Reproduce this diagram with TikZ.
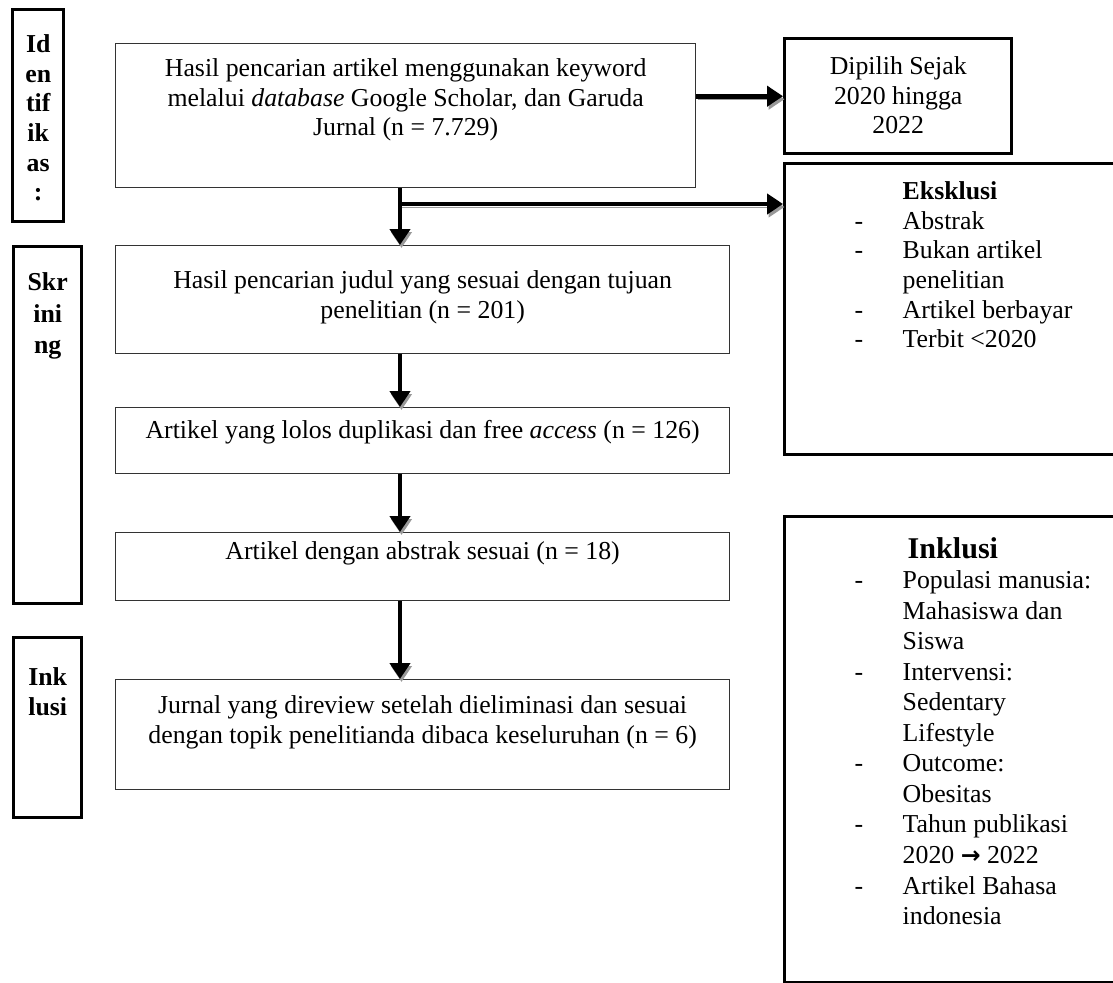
\documentclass[tikz,border=0pt]{standalone}
\usepackage{fontspec}
\setmainfont{Liberation Serif}
\newfontfamily\symfont{DejaVu Sans}
\usetikzlibrary{arrows.meta}
\newdimen\pxu \pxu=0.465pt
\newcommand\bxt[4]{\parbox[c][#2\pxu][t]{#1\pxu}{\vspace*{#3\pxu}#4}}
\begin{document}
\begin{tikzpicture}[x=0.465pt,y=-0.465pt,
  every node/.style={font=\fontsize{12}{13.8}\selectfont, inner sep=0pt, anchor=north west},
  thinbox/.style={draw=black!80, line width=0.6pt},
  heavy/.style={draw=black, line width=1.6pt},
  arr/.style={line width=2.3pt, -{Triangle[length=7.4pt,width=9.3pt]},
    preaction={draw=black!40, transform canvas={shift={(1.5,3)}}}}]
\clip (0,0) rectangle (1113,983);
\fill[white] (0,0) rectangle (1113,983);

% stage labels
\node[heavy] (lid) at (11,8) {\bxt{51}{212}{22}{\centering\bfseries\strut Id\\en\\tif\\ik\\as\\:}};
\node[heavy] (lsk) at (12,245) {\bxt{68}{357}{22}{\centering\bfseries\fontsize{12}{14.6}\selectfont\strut Skr\\ini\\ng}};
\node[heavy] (lin) at (12,636) {\bxt{68}{180}{27}{\centering\bfseries\strut Ink\\lusi}};

% main flow
\node[thinbox] (b1) at (115,43) {\bxt{580}{144}{12}{\centering\strut Hasil pencarian artikel menggunakan keyword\\ melalui \textit{database} Google Scholar, dan Garuda\\ Jurnal (n = 7.729)}};
\node[thinbox] (b2) at (115,245) {\bxt{614}{108}{22}{\centering\strut Hasil pencarian judul yang sesuai dengan tujuan\\ penelitian (n = 201)}};
\node[thinbox] (b3) at (115,407) {\bxt{614}{66}{10}{\centering\strut Artikel yang lolos duplikasi dan free \textit{access} (n = 126)}};
\node[thinbox] (b4) at (115,532) {\bxt{614}{68}{6}{\centering\strut Artikel dengan abstrak sesuai (n = 18)}};
\node[thinbox] (b5) at (115,679) {\bxt{614}{110}{13}{\centering\strut Jurnal yang direview setelah dieliminasi dan sesuai\\ dengan topik penelitianda dibaca keseluruhan (n = 6)}};

% right boxes
\node[heavy] (dp) at (783,37) {\bxt{227}{115}{15}{\centering\strut Dipilih Sejak\\ 2020 hingga\\ 2022}};
\node[heavy] (ex) at (783,162) {\bxt{345}{291}{15}{\hspace*{70\pxu}\begin{tabular}[t]{@{}p{48\pxu}@{}l@{}}
 & \textbf{Eksklusi}\\
-& Abstrak\\
-& Bukan artikel\\
 & penelitian\\
-& Artikel berbayar\\
-& Terbit <2020
\end{tabular}}};
\node[heavy] (in) at (783,515) {\bxt{345}{466}{20}{\fontsize{12}{14.2}\selectfont\hspace*{70\pxu}\begin{tabular}[t]{@{}p{48\pxu}@{}l@{}}
 & \hspace*{5\pxu}{\fontsize{14}{16}\selectfont\bfseries Inklusi}\\
-& Populasi manusia:\\
 & Mahasiswa dan\\
 & Siswa\\
-& Intervensi:\\
 & Sedentary\\
 & Lifestyle\\
-& Outcome:\\
 & Obesitas\\
-& Tahun publikasi\\
 & 2020 {\symfont\bfseries\fontsize{11}{13}\selectfont →} 2022\\
-& Artikel Bahasa\\
 & indonesia
\end{tabular}}};

% connectors
\coordinate (ax) at (400,0);
\coordinate (br) at (400,204);
\draw[arr] (b1.east |- dp.west) -- (dp.west);
\draw[arr] (ax |- b1.south) -- (ax |- b2.north);
\draw[arr] (br) -- (br -| ex.west);
\draw[arr] (ax |- b2.south) -- (ax |- b3.north);
\draw[arr] (ax |- b3.south) -- (ax |- b4.north);
\draw[arr] (ax |- b4.south) -- (ax |- b5.north);
\end{tikzpicture}
\end{document}
